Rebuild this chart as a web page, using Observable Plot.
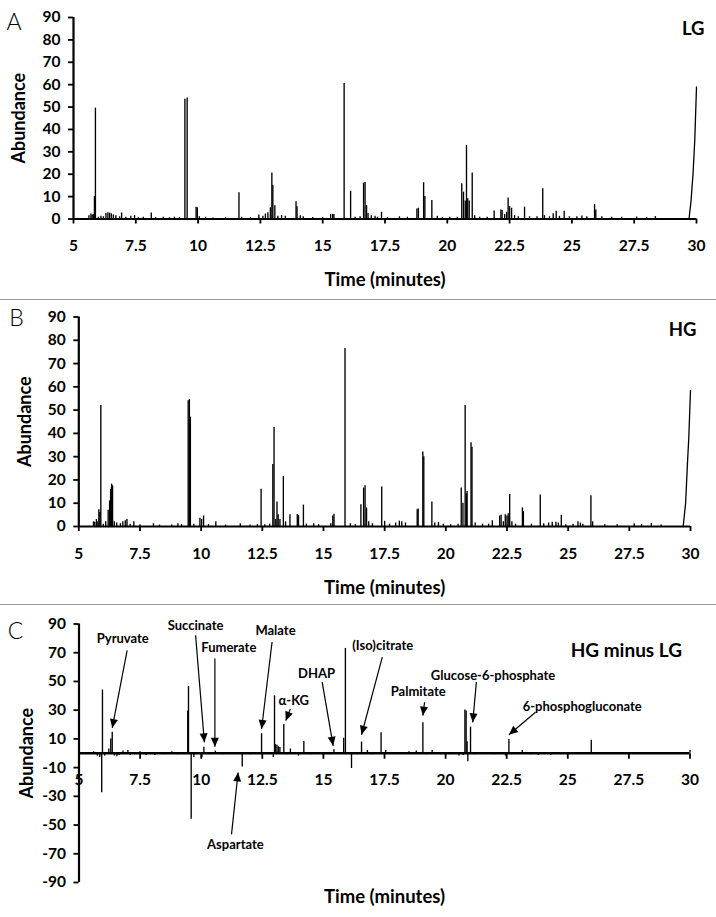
<!DOCTYPE html>
<html>
<head>
<meta charset="utf-8">
<script src="https://cdn.jsdelivr.net/npm/d3@7"></script>
<script src="https://cdn.jsdelivr.net/npm/@observablehq/plot@0.6"></script>
<style>
  body { margin: 0; background: #fff; }
  #wrap { position: relative; width: 716px; height: 917px; overflow: hidden; background: #fff; }
  .panel { position: absolute; left: 0; }
  .sep { position: absolute; left: 0; width: 716px; height: 1px; background: #9c9c9c; }
</style>
</head>
<body>
<div id="wrap"></div>
<script>
// ---------- data ----------
const timeTicks = [5, 7.5, 10, 12.5, 15, 17.5, 20, 22.5, 25, 27.5, 30];
const abundTicksAB = [0, 10, 20, 30, 40, 50, 60, 70, 80, 90];
const abundTicksC = [90, 70, 50, 30, 10, -10, -30, -50, -70, -90];

// Panel A: LG chromatogram peaks [time (min), abundance]
const lgPeaks = [
  [5.62,1.5],[5.7,2.2],[5.75,1.8],[5.8,2.0],[5.84,10],[5.88,49.5],
  [6.0,0.8],[6.1,1.2],[6.2,1.0],[6.3,2.5],[6.38,2.8],[6.45,2.6],[6.52,2.3],[6.6,1.8],[6.7,1.5],[6.85,1.0],[6.93,2.7],
  [7.1,0.8],[7.3,1.2],[7.45,1.5],[7.6,0.6],[7.8,0.8],[8.12,2.7],[8.3,0.6],[8.6,0.8],[8.85,0.6],[9.05,0.8],[9.25,0.7],
  [9.47,53.5],[9.56,54],[9.92,5.2],[9.97,5.0],[10.05,1.0],[10.3,0.8],[10.6,0.5],[11.1,0.5],[11.64,11.7],[11.75,0.8],
  [12.1,0.6],[12.44,1.8],[12.6,1.2],[12.7,2.2],[12.8,2.8],[12.9,5],[12.96,20.6],[13.0,15],[13.08,5.9],[13.2,1.2],
  [13.35,1.6],[13.5,1.2],[13.93,7.7],[13.97,5.5],[14.1,1.5],[14.22,1.0],[14.6,0.7],[15.0,0.6],[15.32,2.0],[15.4,2.1],
  [15.45,2.0],[15.86,60.5],[16.12,12.4],[16.3,0.8],[16.5,1.0],[16.64,16.0],[16.7,16.3],[16.76,6],[16.82,2.5],
  [16.95,1.5],[17.1,1.2],[17.2,0.8],[17.36,3.0],[17.6,0.6],[18.08,1.0],[18.4,0.8],[18.78,4.5],[18.84,4.8],
  [19.05,16.2],[19.1,10],[19.38,8.3],[19.6,1.2],[19.8,0.6],[20.1,0.8],[20.4,0.8],[20.58,15.8],[20.65,12],[20.72,8],
  [20.77,32.9],[20.82,9],[20.88,8],[21.0,20.6],[21.1,1.5],[21.3,0.8],[21.6,0.8],[21.88,3.6],[22.15,4.0],[22.2,3.8],
  [22.3,2.0],[22.38,3],[22.44,9.4],[22.5,5.5],[22.58,4.8],[22.7,1.5],[22.85,1.0],[23.1,5.3],[23.3,1.0],[23.6,1.0],
  [23.83,13.5],[23.9,1.5],[24.1,1.0],[24.25,2.4],[24.37,3.5],[24.5,1.2],[24.69,3.5],[24.9,1.0],[25.2,1.0],[25.4,1.3],
  [25.6,1.0],[25.91,6.4],[25.96,4],[26.2,1.0],[26.6,0.8],[27.0,0.8],[27.6,0.9],[28.0,0.7],[28.35,1.1]
];
const lgRamp = [[29.7,0],[29.78,8],[29.86,20],[29.93,35],[30,59]];

// Panel B: HG chromatogram peaks
const hgPeaks = [
  [5.6,2.0],[5.65,1.8],[5.72,3.0],[5.78,2.0],[5.82,7.2],[5.86,6],[5.9,52],[6.0,1.0],[6.1,2.0],[6.2,7.0],[6.26,11],
  [6.3,16],[6.34,18.2],[6.38,17.5],[6.45,2.0],[6.55,1.5],[6.7,1.2],[6.8,2.0],[6.9,2.5],[6.97,3.0],[7.1,1.0],[7.25,2.0],
  [7.5,0.8],[8.05,1.2],[8.3,0.6],[8.8,0.6],[9.05,1.2],[9.2,0.8],[9.47,54],[9.52,54.5],[9.56,47],[9.7,1.0],[9.95,3.5],
  [10.02,3],[10.1,4.5],[10.3,0.8],[10.6,2.0],[11.0,0.6],[11.6,1.2],[12.0,0.6],[12.3,0.8],[12.45,16],[12.6,0.8],
  [12.8,1.0],[12.93,26.6],[12.98,42.5],[13.05,3],[13.1,10.5],[13.15,5],[13.22,3],[13.36,21.5],[13.45,2],[13.63,5],
  [13.93,5.2],[13.98,4.8],[14.18,9.2],[14.3,1.0],[14.6,1.2],[14.8,0.8],[15.3,1.2],[15.38,4.5],[15.43,5.3],[15.88,76.5],
  [16.1,1.2],[16.3,0.8],[16.53,9.3],[16.64,16.5],[16.7,17.5],[16.76,8],[16.85,2],[17.0,1.2],[17.38,17.0],[17.5,2.2],
  [17.7,1.0],[17.95,1.5],[18.1,2.3],[18.2,2.0],[18.35,1.5],[18.83,7.2],[18.87,7.5],[19.06,32],[19.1,30],[19.43,10.5],
  [19.55,1.5],[19.7,1.8],[19.9,1.0],[20.2,0.8],[20.5,1.0],[20.63,16.5],[20.7,10],[20.79,52],[20.84,14],[20.87,15],
  [21.03,36],[21.07,34],[21.2,1.5],[21.5,1.0],[21.75,1.0],[21.9,2.5],[22.2,4.5],[22.26,4.8],[22.35,2.0],[22.43,5.0],
  [22.5,4.5],[22.55,5.5],[22.61,13.8],[22.7,2.0],[22.85,1.0],[23.13,8.0],[23.17,6.5],[23.5,1.0],[23.86,13.5],[24.0,1.2],
  [24.2,1.5],[24.35,1.8],[24.5,1.8],[24.6,1.5],[24.72,4.8],[24.9,0.8],[25.2,1.0],[25.4,2.0],[25.5,1.5],[25.6,1.0],
  [25.93,13.2],[26.0,2],[26.5,0.8],[27.0,0.8],[27.7,1.2],[28.0,0.8],[28.4,1.3],[28.8,0.6]
];
const hgRamp = [[29.7,0],[29.8,10],[29.88,28],[29.93,38],[30,58.5]];

// Panel C: HG minus LG difference trace
const diffPeaks = [
  [5.6,1],[5.75,-2],[5.85,-3],[5.93,-27.5],[5.96,44],[6.05,-2],[6.22,3],[6.3,10],[6.36,14.7],[6.45,-2],[6.55,-2.5],
  [6.65,-1.5],[6.8,1.5],[7.0,2],[7.1,-1.5],[7.25,-1],[7.5,1],[7.75,-1.5],[8.1,-1.5],[8.5,-1],[8.8,1],[9.05,-1],[9.3,-1],
  [9.45,29.5],[9.48,46.5],[9.59,-46],[9.7,-3],[10.03,-3],[10.11,4.2],[10.3,-1],[10.58,1.5],[10.9,-1],[11.2,-0.8],
  [11.68,-9.5],[12.0,-1],[12.3,-0.8],[12.47,13.6],[12.6,-0.8],[12.8,-1],[12.95,-3],[13.0,40],[13.04,6],[13.1,5.5],
  [13.16,4.5],[13.22,4],[13.38,20],[13.5,-1],[13.65,3],[13.98,-2],[14.2,8.2],[14.5,-1],[15.0,-1],[15.3,-1],[15.43,2.5],
  [15.6,-0.8],[15.83,10.4],[15.9,73],[16.15,-10.6],[16.4,-1],[16.56,7.8],[16.8,2],[17.0,-1],[17.36,14.3],[17.55,2],
  [17.8,-0.8],[18.2,-0.8],[18.5,1],[18.8,1.5],[19.07,21.2],[19.2,-1],[19.45,2],[19.8,-1],[20.2,-1],[20.55,-2],
  [20.72,-1.5],[20.79,30.2],[20.84,29.5],[20.88,8],[20.91,-6],[21.02,18.2],[21.2,-1],[21.6,-0.8],[22.0,-1],[22.45,-2],
  [22.59,9.5],[22.7,-1],[23.14,2],[23.5,-1],[23.8,-1.5],[24.3,-1.5],[24.7,-1],[25.0,-0.8],[25.5,-0.8],[25.96,9],
  [26.5,-0.5],[27.5,-0.5],[28.5,-0.5],[29.5,-0.5],[30.0,2]
];

// Panel C annotations (data units): label, label position, arrow start, arrow tip
const annLabels   = ["Pyruvate","Succinate","Fumerate","Malate","\u03b1-KG","DHAP","(Iso)citrate","Palmitate","Glucose-6-phosphate","6-phosphogluconate","Aspartate"];
const annTextTime = [6.79, 9.77, 11.13, 13.04, 13.79, 14.72, 17.43, 18.88, 21.94, 25.59, 11.40];
const annTextAbund= [79.9, 88.5, 73.6, 85.0, 36.2, 55.4, 74.5, 42.5, 53.7, 32.0, -63.5];
const annFromTime = [6.97, 9.77, 10.56, 12.90, 13.65, 14.95, 17.41, 19.14, 21.26, 23.68, 11.24];
const annFromAbund= [71.7, 82.2, 65.9, 77.5, 30.9, 49.5, 67.0, 35.5, 49.5, 28.5, -56.5];
const annTipTime  = [6.36, 10.13, 10.56, 12.47, 13.46, 15.40, 16.56, 19.07, 21.11, 22.59, 11.51];
const annTipAbund = [17.6, 7.6, 4.5, 16.9, 22.7, 5.2, 12.9, 26.2, 21.5, 12.9, -13.4];

// ---------- helpers ----------
const toPts = pairs => pairs.map(([t, v]) => ({t, v}));
const FONT = "Lato, 'Open Sans', sans-serif";
const fmt = d => String(d);
const TICK_FS = 15.5;

function filledArrow(color, context) {
  const doc = (context && context.document) || document;
  const ns = "http://www.w3.org/2000/svg";
  const m = doc.createElementNS(ns, "marker");
  m.setAttribute("viewBox", "-10 -5 11 10");
  m.setAttribute("markerWidth", "11");
  m.setAttribute("markerHeight", "10");
  m.setAttribute("markerUnits", "userSpaceOnUse");
  m.setAttribute("orient", "auto");
  const p = doc.createElementNS(ns, "path");
  p.setAttribute("d", "M-9,-4L0,0L-9,4Z");
  p.setAttribute("fill", color === "currentColor" ? "black" : color);
  p.setAttribute("stroke", "none");
  m.appendChild(p);
  return m;
}

const tickDown = { draw(ctx) { ctx.moveTo(0, 0); ctx.lineTo(0, 5.5); } };

function labelMarks({title, titleDy, ylabDx, tag, tagDx, tagDy, tagFs, letter, letterDx, letterDy}) {
  return [
    Plot.text([title], {frameAnchor: "bottom", textAnchor: "middle", lineAnchor: "middle", dy: titleDy, fontSize: 18.5, fontWeight: "bold"}),
    Plot.text(["Abundance"], {frameAnchor: "left", textAnchor: "middle", lineAnchor: "middle", rotate: -90, dx: ylabDx, fontSize: 18, fontWeight: "bold"}),
    Plot.text([tag], {frameAnchor: "top-right", textAnchor: "end", lineAnchor: "middle", dx: tagDx, dy: tagDy, fontSize: tagFs, fontWeight: "bold"}),
    Plot.text([letter], {frameAnchor: "top-left", textAnchor: "middle", lineAnchor: "middle", dx: letterDx, dy: letterDy, fontSize: 23, fontWeight: 300})
  ];
}

function chromPanel({height, mt, mb, ml, mr, peaks, ramp, labels}) {
  return Plot.plot({
    width: 716, height,
    marginTop: mt, marginBottom: mb, marginLeft: ml, marginRight: mr,
    x: {domain: [5, 30]},
    y: {domain: [0, 90]},
    style: {fontFamily: FONT, fontWeight: "bold", fontSize: TICK_FS + "px", color: "#000", background: "#fff"},
    marks: [
      Plot.axisX(timeTicks, {anchor: "bottom", tickSize: 5, tickPadding: 16, tickFormat: fmt, label: null, strokeWidth: 1.8, fontSize: TICK_FS}),
      Plot.axisY(abundTicksAB, {anchor: "left", tickSize: 5, tickPadding: 8, tickFormat: fmt, label: null, strokeWidth: 1.8, fontSize: TICK_FS}),
      Plot.ruleX(toPts(peaks), {x: "t", y: "v", strokeWidth: 1.35}),
      Plot.line(toPts(ramp), {x: "t", y: "v", strokeWidth: 1.3}),
      Plot.ruleY([0], {strokeWidth: 2.2}),
      Plot.ruleX([5], {strokeWidth: 2.2}),
      ...labelMarks(labels)
    ]
  });
}

function diffPanel() {
  const ann = annLabels.map((label, i) => ({
    label, tx: annTextTime[i], ty: annTextAbund[i],
    x1: annFromTime[i], y1: annFromAbund[i], x2: annTipTime[i], y2: annTipAbund[i]
  }));
  return Plot.plot({
    width: 716, height: 312,
    marginTop: 18.5, marginBottom: 35, marginLeft: 78.5, marginRight: 26.5,
    x: {domain: [5, 30], axis: null},
    y: {domain: [-90, 90]},
    style: {fontFamily: FONT, fontWeight: "bold", fontSize: TICK_FS + "px", color: "#000", background: "#fff"},
    marks: [
      Plot.axisY(abundTicksC, {anchor: "left", tickSize: 5, tickPadding: 8, tickFormat: fmt, label: null, strokeWidth: 1.8, fontSize: TICK_FS}),
      Plot.ruleX(toPts(diffPeaks), {x: "t", y: "v", strokeWidth: 1.35}),
      Plot.ruleY([0], {strokeWidth: 2.5}),
      Plot.ruleX([5], {strokeWidth: 2.2}),
      Plot.dot(timeTicks, {x: d => d, y: () => 0, symbol: tickDown, stroke: "black", strokeWidth: 1.8, r: 3}),
      Plot.text(timeTicks, {x: d => d, y: () => 0, dy: 27, lineAnchor: "middle", text: fmt, fontSize: TICK_FS, fontWeight: "bold"}),
      Plot.link(ann, {x1: "x1", y1: "y1", x2: "x2", y2: "y2", stroke: "black", strokeWidth: 1.2, markerEnd: filledArrow}),
      Plot.text(ann, {x: "tx", y: "ty", text: "label", fontSize: 13, fontWeight: "bold"}),
      ...labelMarks({title: "Time (minutes)", titleDy: 15, ylabDx: -51.5, tag: "HG minus LG", tagDx: -8, tagDy: 26.5, tagFs: 19,
        letter: "C", letterDx: -63.5, letterDy: 7.5})
    ]
  });
}

// ---------- layout ----------
const wrap = document.getElementById("wrap");
function place(node, top) {
  node.classList.add("panel");
  node.style.top = top + "px";
  wrap.appendChild(node);
}
function sep(top) {
  const d = document.createElement("div");
  d.className = "sep";
  d.style.top = top + "px";
  wrap.appendChild(d);
}

place(chromPanel({height: 298, mt: 17, mb: 79.5, ml: 73, mr: 20, peaks: lgPeaks, ramp: lgRamp,
  labels: {title: "Time (minutes)", titleDy: 61.5, ylabDx: -54, tag: "LG", tagDx: 8, tagDy: 11.3, tagFs: 18.5,
    letter: "A", letterDx: -59.5, letterDy: 5}}), 0);
sep(299);
place(chromPanel({height: 304, mt: 16.5, mb: 78, ml: 78.3, mr: 26, peaks: hgPeaks, ramp: hgRamp,
  labels: {title: "Time (minutes)", titleDy: 62, ylabDx: -53.3, tag: "HG", tagDx: 6, tagDy: 13.5, tagFs: 18.5,
    letter: "B", letterDx: -62.3, letterDy: 1.5}}), 300);
sep(604);
place(diffPanel(), 605);
</script>
</body>
</html>
